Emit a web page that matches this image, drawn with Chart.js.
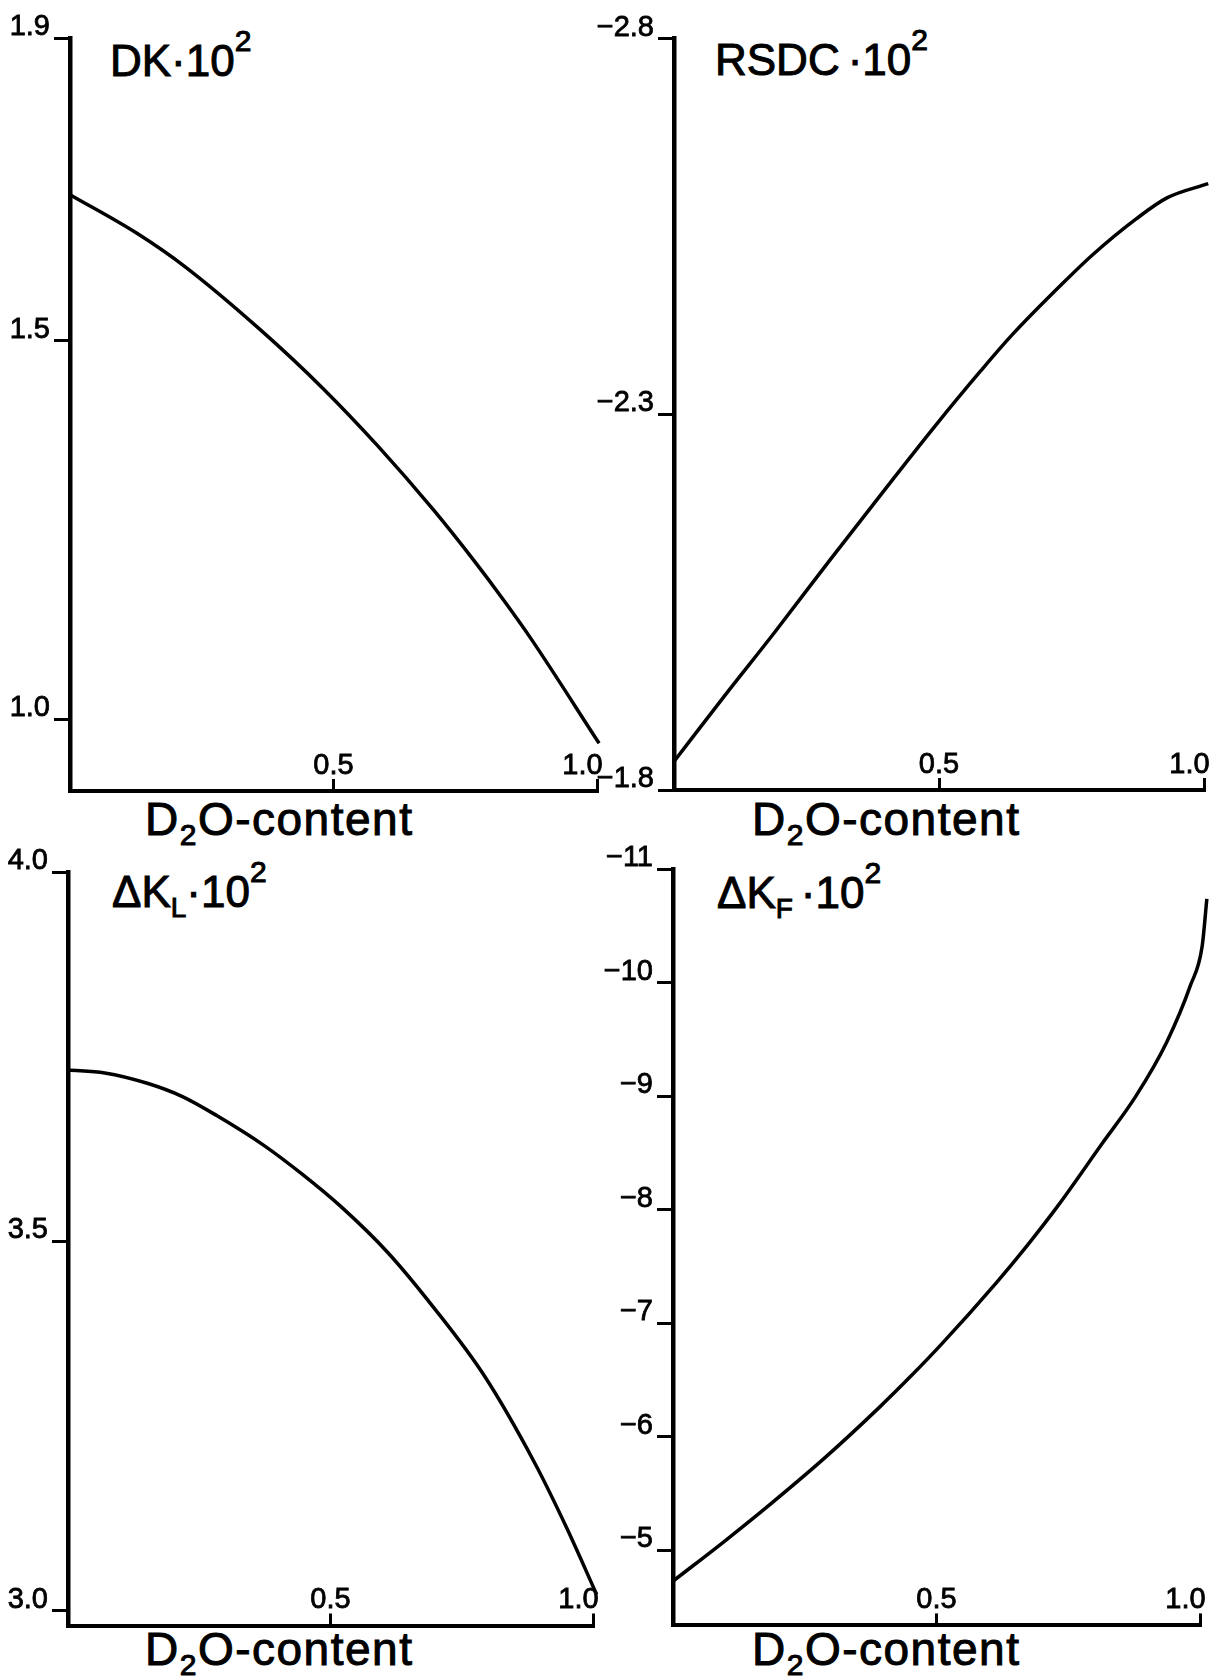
<!DOCTYPE html>
<html>
<head>
<meta charset="utf-8">
<script src="https://cdn.jsdelivr.net/npm/chart.js@4.4.1/dist/chart.umd.min.js"></script>
<style>
  html, body { margin: 0; padding: 0; background: #fff; }
  body { width: 1217px; height: 1679px; position: relative; overflow: hidden;
         font-family: "Liberation Sans", Arial, sans-serif; color: #000; }
  canvas { position: absolute; }
  .ttl { position: absolute; font-size: 44px; line-height: 1; white-space: nowrap; -webkit-text-stroke: 1px #000; }
  .ttl .sup { font-size: 30px; position: relative; top: -25px; }
  .ttl .sub { font-size: 28px; position: relative; top: 10px; }
  .ttl .dot { margin-left: 8px; }
  .xl { position: absolute; font-size: 46px; line-height: 1; letter-spacing: 1.5px; white-space: nowrap; -webkit-text-stroke: 1px #000; }
  .xl .sub { font-size: 30px; position: relative; top: 10px; }
</style>
</head>
<body>
<div class="ttl" style="left:110px;top:39px">DK·10<span class="sup">2</span></div>
<div class="ttl" style="left:715px;top:38px">RSDC<span class="dot">·</span>10<span class="sup">2</span></div>
<div class="ttl" style="left:112px;top:870px">ΔK<span class="sub">L</span>·10<span class="sup">2</span></div>
<div class="ttl" style="left:717px;top:871px">ΔK<span class="sub">F</span><span class="dot">·</span>10<span class="sup">2</span></div>

<div class="xl" style="left:145px;top:796px">D<span class="sub">2</span>O-content</div>
<div class="xl" style="left:752px;top:796px">D<span class="sub">2</span>O-content</div>
<div class="xl" style="left:145px;top:1626px">D<span class="sub">2</span>O-content</div>
<div class="xl" style="left:752px;top:1626px">D<span class="sub">2</span>O-content</div>

<script>
// D2O-content axis (shared)
const xTicks = [0.5, 1.0];
const xTickLabels = ["0.5", "1.0"];

// DK·10^2
const dkX = [0, 0.127, 0.218, 0.362, 0.48, 0.584, 0.689, 0.767, 0.823, 0.875, 1.004];
const dkY = [1.693, 1.642, 1.598, 1.514, 1.437, 1.361, 1.277, 1.209, 1.157, 1.106, 0.968];
const dkTicks = [1.0, 1.5, 1.9];
const dkTickLabels = ["1.0", "1.5", "1.9"];

// RSDC·10^2
const rsdcX = [0, 0.095, 0.19, 0.293, 0.418, 0.491, 0.579, 0.637, 0.733, 0.791, 0.872, 0.93, 1.008];
const rsdcY = [-1.838, -1.925, -2.01, -2.105, -2.218, -2.283, -2.358, -2.405, -2.474, -2.513, -2.56, -2.588, -2.607];
const rsdcTicks = [-2.8, -2.3, -1.8];
const rsdcTickLabels = ["\u22122.8", "\u22122.3", "\u22121.8"];

// ΔK_L·10^2
const klX = [0, 0.07, 0.151, 0.218, 0.284, 0.373, 0.446, 0.52, 0.609, 0.697, 0.793, 0.889, 0.948, 1.007];
const klY = [3.732, 3.728, 3.714, 3.696, 3.67, 3.63, 3.591, 3.547, 3.485, 3.41, 3.318, 3.2, 3.115, 3.022];
const klTicks = [3.0, 3.5, 4.0];
const klTickLabels = ["3.0", "3.5", "4.0"];

// ΔK_F·10^2
const kfX = [0, 0.097, 0.186, 0.289, 0.392, 0.451, 0.51, 0.613, 0.672, 0.731, 0.812, 0.878, 0.937, 0.982, 1.004, 1.013];
const kfY = [-4.73, -5.079, -5.413, -5.82, -6.263, -6.534, -6.82, -7.356, -7.686, -8.04, -8.57, -9.0, -9.48, -9.98, -10.32, -10.74];
const kfTicks = [-11, -10, -9, -8, -7, -6, -5];
const kfTickLabels = ["\u221211", "\u221210", "\u22129", "\u22128", "\u22127", "\u22126", "\u22125"];

const tickFont = { family: "'Liberation Sans Narrow', 'Liberation Sans', sans-serif", size: 29 };

function makePanel(box, area, xs, ys, yMin, yMax, reverse, yTicks, yLabels) {
  const canvas = document.createElement("canvas");
  canvas.width = box.width;
  canvas.height = box.height;
  canvas.style.left = box.left + "px";
  canvas.style.top = box.top + "px";
  document.body.appendChild(canvas);

  new Chart(canvas.getContext("2d"), {
    type: "line",
    data: {
      datasets: [
        {
          data: xs.map((x, i) => ({ x: x, y: ys[i] })),
          borderColor: "#000",
          borderWidth: 3.5,
          pointRadius: 0,
          fill: false,
          cubicInterpolationMode: "monotone",
          clip: false,
        },
      ],
    },
    options: {
      responsive: false,
      animation: false,
      events: [],
      layout: {
        padding: {
          left: 0,
          top: area.top - box.top,
          right: box.left + box.width - area.right,
          bottom: box.top + box.height - area.xBottom,
        },
      },
      plugins: { legend: { display: false }, tooltip: { enabled: false } },
      scales: {
        x: {
          type: "linear",
          position: "bottom",
          bounds: "data",
          min: 0,
          // end the axis at 1.0 but keep the curve's last bit that runs past it
          afterDataLimits: (s) => { s.max = 1; },
          afterBuildTicks: (s) => { s.ticks = xTicks.map((v) => ({ value: v })); },
          afterFit: (s) => {
            s.height = area.xBottom - area.bottom;
            s.paddingLeft = 0;
            s.paddingRight = 0;
          },
          grid: { drawOnChartArea: false, tickLength: -12, tickWidth: 3, tickColor: "#000" },
          border: { display: true, color: "#000", width: 4 },
          ticks: {
            mirror: true,
            padding: 8,
            autoSkip: false,
            maxRotation: 0,
            color: "#000",
            textStrokeColor: "#000",
            textStrokeWidth: 0.8,
            font: tickFont,
            callback: (v, i) => (i === xTicks.length - 1 ? xTickLabels[i] + "\u2002\u2002" : xTickLabels[i]),
          },
        },
        y: {
          type: "linear",
          position: "left",
          min: yMin,
          max: yMax,
          reverse: reverse,
          afterBuildTicks: (s) => { s.ticks = yTicks.map((v) => ({ value: v })); },
          afterFit: (s) => {
            s.width = area.left - box.left;
            s.paddingTop = 0;
            s.paddingBottom = 0;
          },
          grid: { drawOnChartArea: false, tickLength: 16, tickWidth: 3, tickColor: "#000" },
          border: { display: true, color: "#000", width: 4.5 },
          ticks: {
            padding: 4,
            labelOffset: -11,
            autoSkip: false,
            color: "#000",
            textStrokeColor: "#000",
            textStrokeWidth: 0.8,
            font: tickFont,
            callback: (v, i) => yLabels[i],
          },
        },
      },
    },
  });
}

makePanel({ left: 0, top: 0, width: 650, height: 860 },
  { left: 70, top: 38, right: 597, bottom: 791, xBottom: 841 },
  dkX, dkY, 0.905, 1.9, false, dkTicks, dkTickLabels);

makePanel({ left: 580, top: 0, width: 660, height: 860 },
  { left: 674, top: 38.6, right: 1204, bottom: 790, xBottom: 841 },
  rsdcX, rsdcY, -2.8, -1.8, true, rsdcTicks, rsdcTickLabels);

makePanel({ left: 0, top: 840, width: 650, height: 839 },
  { left: 68, top: 872, right: 593, bottom: 1625.5, xBottom: 1671 },
  klX, klY, 2.98, 4.0, false, klTicks, klTickLabels);

makePanel({ left: 580, top: 840, width: 660, height: 839 },
  { left: 673, top: 869.4, right: 1200, bottom: 1625.4, xBottom: 1671 },
  kfX, kfY, -11, -4.34, true, kfTicks, kfTickLabels);
</script>
</body>
</html>
